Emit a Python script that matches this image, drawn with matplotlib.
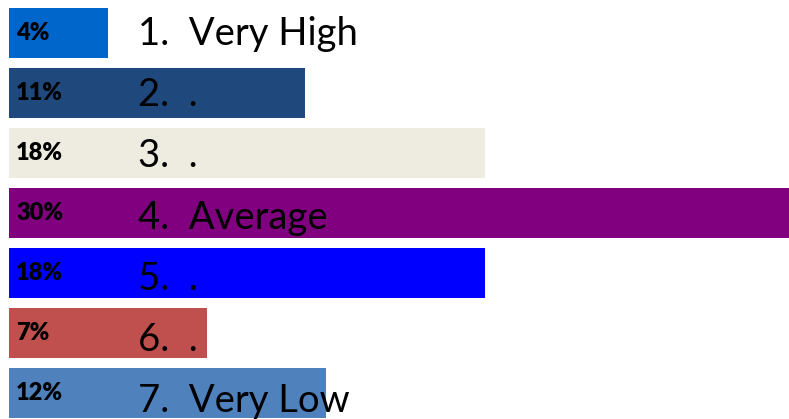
import matplotlib
matplotlib.use("Agg")
import matplotlib.pyplot as plt
from matplotlib.transforms import offset_copy

categories = ["1.  Very High", "2.  .", "3.  .", "4.  Average", "5.  .", "6.  .", "7.  Very Low"]
values = [3.8, 11.4, 18.3, 30.0, 18.3, 7.6, 12.2]
pct_labels = ["4%", "11%", "18%", "30%", "18%", "7%", "12%"]
colors = ["#0066CC", "#1F497D", "#EEECE1", "#800080", "#0000FF", "#C0504D", "#4F81BD"]

W, H = 789, 419
fig = plt.figure(figsize=(W / 100, H / 100), dpi=100)
ax = fig.add_axes([0, 0, 1, 1])
ax.set_axis_off()

px_per_unit = 780 / 30.0
ax.set_xlim(-9 / px_per_unit, (W - 9) / px_per_unit)
ax.set_ylim((H - 33) / 60.0, -33 / 60.0)

y = list(range(len(values)))
ax.barh(y, values, height=50 / 60.0, color=colors, left=0)

for i, (cat, lab) in enumerate(zip(categories, pct_labels)):
    ax.text((16 - 9) / px_per_unit, i, lab, fontsize=17, fontweight="heavy",
            family=["Lato", "DejaVu Sans"], va="center", ha="left", color="black")
    tr = offset_copy(ax.transData, fig=fig, x=0, y=-(12 + 1.2 * i), units="dots")
    ax.text((138 - 9) / px_per_unit, i, cat, fontsize=27.5, transform=tr,
            family=["Lato", "DejaVu Sans"], va="baseline", ha="left", color="black")

fig.savefig("out.png", dpi=100)
